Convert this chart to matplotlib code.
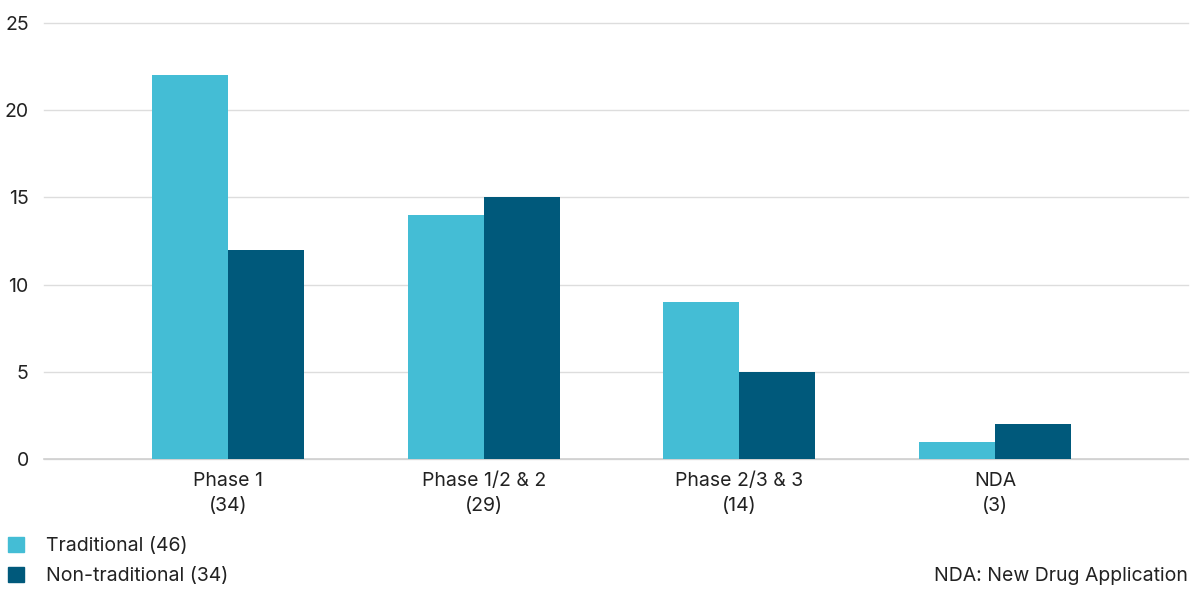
import numpy as np
import matplotlib
matplotlib.use("Agg")
import matplotlib.pyplot as plt
from matplotlib.patches import Patch

plt.rcParams['font.family'] = ['Inter', 'DejaVu Sans']

phases = ['Phase 1\n(34)', 'Phase 1/2 & 2\n(29)', 'Phase 2/3 & 3\n(14)', 'NDA\n(3)']
traditional = [22, 14, 9, 1]
non_traditional = [12, 15, 5, 2]
yticks = [0, 5, 10, 15, 20, 25]

light = '#44BDD5'
dark = '#00597B'
text_col = '#222222'
fs = 14

fig = plt.figure(figsize=(11.96, 5.9), dpi=100)
ax = fig.add_axes([44 / 1196, 1 - 459 / 590, (1188 - 44) / 1196, (459 - 23) / 590])

x = np.arange(len(phases))
w = 0.297
ax.bar(x - w / 2, traditional, w, color=light, zorder=3)
ax.bar(x + w / 2, non_traditional, w, color=dark, zorder=3)

ax.set_xlim(-0.72, 3.755)
ax.set_ylim(0, 25)
ax.set_yticks(yticks)
ax.set_xticks(x)
ax.set_xticklabels(phases, fontsize=fs, color=text_col, linespacing=1.5)
ax.tick_params(axis='y', labelsize=fs, labelcolor=text_col, length=0, pad=11)
ax.tick_params(axis='x', length=0, pad=9)
ax.grid(axis='y', color='#dddddd', linewidth=1, zorder=0)
for g in ax.get_ygridlines():
    g.set_clip_on(False)
for s in ['top', 'right', 'left']:
    ax.spines[s].set_visible(False)
ax.spines['bottom'].set_color('#d0d0d0')
ax.spines['bottom'].set_linewidth(1.2)

handles = [Patch(color=light, label='Traditional (46)'),
           Patch(color=dark, label='Non-traditional (34)')]
fig.legend(handles=handles, loc='lower left', bbox_to_anchor=(-6 / 1196, -9 / 590),
           frameon=False, fontsize=fs, handlelength=0.85, handleheight=0.85,
           handletextpad=1.1, labelspacing=0.6, borderaxespad=0.3,
           labelcolor=text_col)

fig.text(1188 / 1196, 1 - 576 / 590, 'NDA: New Drug Application', ha='right',
         va='center', fontsize=fs, color=text_col)

fig.savefig('out.png', dpi=100)
